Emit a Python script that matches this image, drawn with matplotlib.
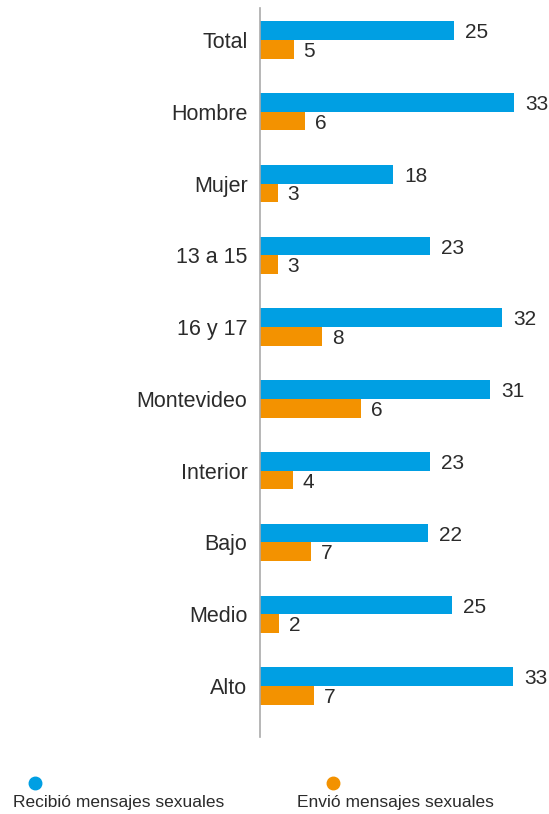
import matplotlib
matplotlib.use('Agg')
import matplotlib.pyplot as plt
from matplotlib.lines import Line2D
import numpy as np

plt.rcParams['font.family'] = ['Liberation Sans', 'DejaVu Sans']

# datos
categorias = ['Total', 'Hombre', 'Mujer', '13 a 15', '16 y 17',
              'Montevideo', 'Interior', 'Bajo', 'Medio', 'Alto']
recibio = [25.2, 33.0, 17.3, 22.1, 31.4, 29.9, 22.1, 21.8, 24.9, 32.9]
envio = [4.4, 5.9, 2.3, 2.3, 8.1, 13.1, 4.3, 6.6, 2.5, 7.0]
recibio_etiq = ['25', '33', '18', '23', '32', '31', '23', '22', '25', '33']
envio_etiq = ['5', '6', '3', '3', '8', '6', '4', '7', '2', '7']

azul = '#009FE3'
naranja = '#F39200'
gris_texto = '#2B2B2B'

fig = plt.figure(figsize=(5.49, 8.14), dpi=100)
ax = fig.add_axes([260 / 549, 1 - 737 / 814, 289 / 549, 729 / 814])

y = np.arange(len(categorias))
h = 0.26
ax.barh(y - h / 2, recibio, height=h, color=azul)
ax.barh(y + h / 2, envio, height=h, color=naranja)

ax.set_xlim(0, 289 / 7.7)
ax.set_ylim(len(categorias) - 1 + 0.71, -0.446)

# etiquetas de valores
for i in range(len(categorias)):
    ax.annotate(recibio_etiq[i], (recibio[i], y[i] - h / 2), xytext=(8, -1.5),
                textcoords='offset points', ha='left', va='center',
                fontsize=15, color=gris_texto)
    ax.annotate(envio_etiq[i], (envio[i], y[i] + h / 2), xytext=(7, -1.5),
                textcoords='offset points', ha='left', va='center',
                fontsize=15, color=gris_texto)

ax.set_yticks(y)
ax.set_yticklabels(categorias, fontsize=15.5, color=gris_texto)
for t in ax.get_yticklabels():
    t.set_y(t.get_position()[1])
ax.tick_params(axis='y', length=0, pad=9)
ax.set_xticks([])
for s in ['top', 'right', 'bottom']:
    ax.spines[s].set_visible(False)
ax.spines['left'].set_color('#AAAAAA')
ax.spines['left'].set_linewidth(1.2)

# leyenda
fig.add_artist(Line2D([35 / 549], [1 - 783 / 814], marker='o', markersize=9,
                      color=azul, transform=fig.transFigure))
fig.add_artist(Line2D([333 / 549], [1 - 783 / 814], marker='o', markersize=9,
                      color=naranja, transform=fig.transFigure))
fig.text(13 / 549, 1 - 803 / 814, 'Recibió mensajes sexuales', fontsize=12.5,
         color=gris_texto, va='center', ha='left')
fig.text(297 / 549, 1 - 803 / 814, 'Envió mensajes sexuales', fontsize=12.5,
         color=gris_texto, va='center', ha='left')

fig.savefig('out.png', dpi=100)
